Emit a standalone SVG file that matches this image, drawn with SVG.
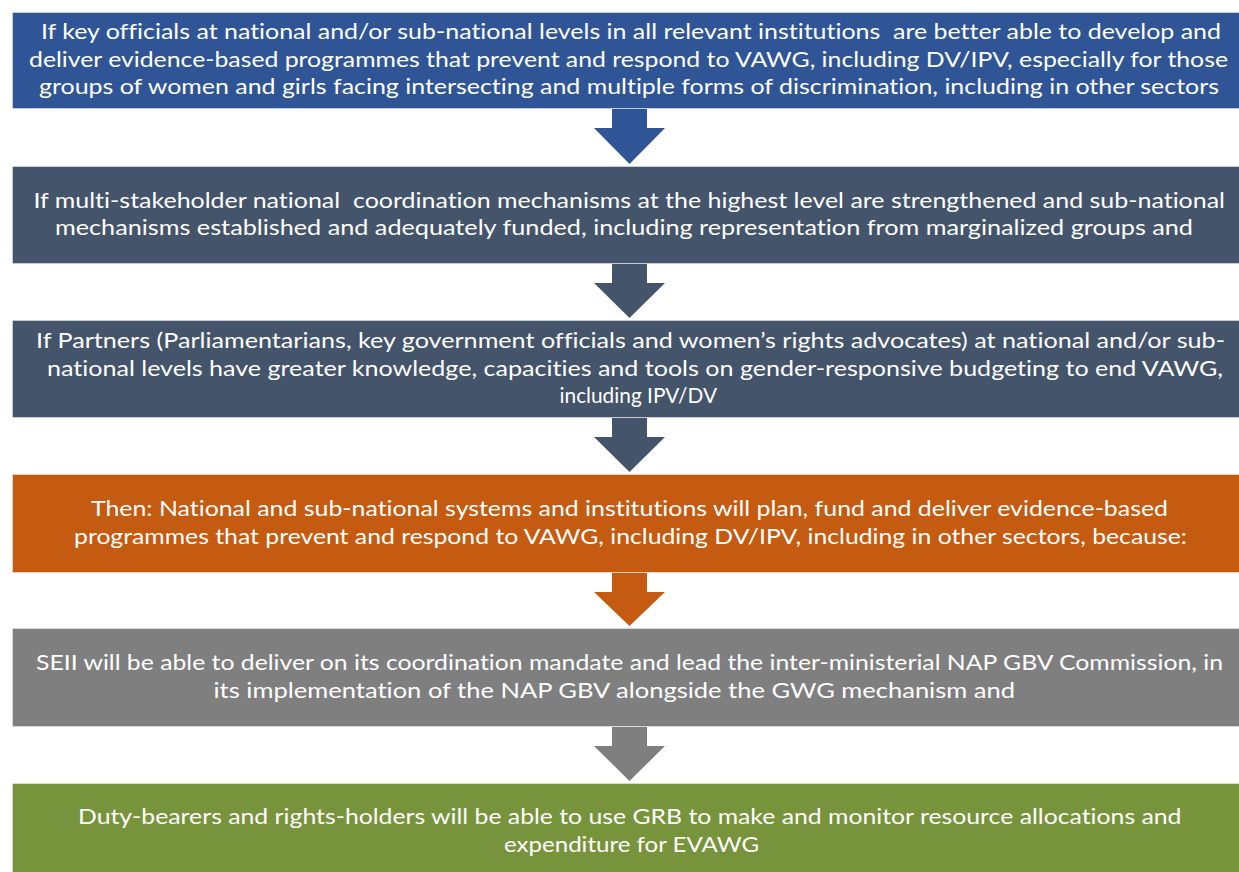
<svg xmlns="http://www.w3.org/2000/svg" width="1239" height="872" viewBox="0 0 1239 872">
  <style>
    .box { stroke: #ffffff; stroke-opacity: 0.4; stroke-width: 1; }
    .blue { fill: #2F5597; }
    .slate { fill: #44546A; }
    .orange { fill: #C55A11; }
    .grey { fill: #7F7F7F; }
    .green { fill: #77933C; }
    text { font-family: Lato, "Open Sans", "Liberation Sans", sans-serif; font-size: 21px; fill: #ffffff; white-space: pre; font-variant-ligatures: none; font-feature-settings: "liga" 0, "dlig" 0; }
  </style>
  <rect x="0" y="0" width="1239" height="872" fill="#ffffff"/>

  <!-- block arrows linking each statement to the next -->
  <g id="connectors">
    <polygon class="blue" points="612,109 647,109 647,128 665,128 629.5,164 594,128 612,128"/>
    <polygon class="slate" points="612,264 647,264 647,283 665,283 629.5,318 594,283 612,283"/>
    <polygon class="slate" points="612,418 647,418 647,437 665,437 629.5,472 594,437 612,437"/>
    <polygon class="orange" points="612,573 647,573 647,592 665,592 629.5,626 594,592 612,592"/>
    <polygon class="grey" points="612,727 647,727 647,746 665,746 629.5,781 594,746 612,746"/>
  </g>

  <g id="node-officials">
    <rect class="box blue" x="12.5" y="12.5" width="1240" height="96"/>
    <text x="41" y="39" textLength="1180" lengthAdjust="spacingAndGlyphs">If key officials at national and/or sub-national levels in all relevant institutions  are better able to develop and</text>
    <text x="29" y="66.5" textLength="1199" lengthAdjust="spacingAndGlyphs">deliver evidence-based programmes that prevent and respond to VAWG, including DV/IPV, especially for those</text>
    <text x="39" y="94" textLength="1180" lengthAdjust="spacingAndGlyphs">groups of women and girls facing intersecting and multiple forms of discrimination, including in other sectors</text>
  </g>

  <g id="node-coordination">
    <rect class="box slate" x="12.5" y="166.5" width="1240" height="97"/>
    <text x="33.5" y="207.5" textLength="1191.5" lengthAdjust="spacingAndGlyphs">If multi-stakeholder national  coordination mechanisms at the highest level are strengthened and sub-national</text>
    <text x="55" y="235" textLength="1138" lengthAdjust="spacingAndGlyphs">mechanisms established and adequately funded, including representation from marginalized groups and</text>
  </g>

  <g id="node-partners">
    <rect class="box slate" x="12.5" y="320.5" width="1240" height="97"/>
    <text x="36" y="348" textLength="1189" lengthAdjust="spacingAndGlyphs">If Partners (Parliamentarians, key government officials and women’s rights advocates) at national and/or sub-</text>
    <text x="47" y="375.5" textLength="1176" lengthAdjust="spacingAndGlyphs">national levels have greater knowledge, capacities and tools on gender-responsive budgeting to end VAWG,</text>
    <text x="559.5" y="403" textLength="157.5" lengthAdjust="spacingAndGlyphs">including IPV/DV</text>
  </g>

  <g id="node-then">
    <rect class="box orange" x="12.5" y="474.5" width="1240" height="98"/>
    <text x="91" y="516" textLength="1077" lengthAdjust="spacingAndGlyphs">Then: National and sub-national systems and institutions will plan, fund and deliver evidence-based</text>
    <text x="74" y="543.5" textLength="1113" lengthAdjust="spacingAndGlyphs">programmes that prevent and respond to VAWG, including DV/IPV, including in other sectors, because:</text>
  </g>

  <g id="node-seii">
    <rect class="box grey" x="12.5" y="628.5" width="1240" height="98"/>
    <text x="36" y="670" textLength="1187" lengthAdjust="spacingAndGlyphs">SEII will be able to deliver on its coordination mandate and lead the inter-ministerial NAP GBV Commission, in</text>
    <text x="213.5" y="697.5" textLength="801.5" lengthAdjust="spacingAndGlyphs">its implementation of the NAP GBV alongside the GWG mechanism and</text>
  </g>

  <g id="node-grb">
    <rect class="box green" x="12.5" y="783.5" width="1240" height="100"/>
    <text x="78" y="824" textLength="1103.5" lengthAdjust="spacingAndGlyphs">Duty-bearers and rights-holders will be able to use GRB to make and monitor resource allocations and</text>
    <text x="504" y="851.5" textLength="255" lengthAdjust="spacingAndGlyphs">expenditure for EVAWG</text>
  </g>
</svg>
